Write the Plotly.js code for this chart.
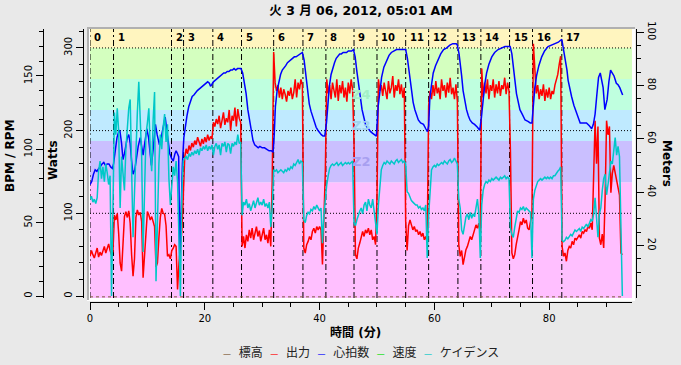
<!DOCTYPE html>
<html>
<head>
<meta charset="utf-8">
<script src="https://cdn.plot.ly/plotly-3.0.1.min.js"></script>
<style>
html,body{margin:0;padding:0;background:#e9e9e9;}
#chart{width:681px;height:365px;}
</style>
</head>
<body>
<div id="chart"></div>
<script>
// ---------------- DATA ----------------
const titleText = '火 3 月 06, 2012, 05:01 AM';
const seriesNames  = ['標高', '出力', '心拍数', '速度', 'ケイデンス'];
const seriesColors = ['#7c5b3a', '#ff0000', '#0000ff', '#00e000', '#00c8c8'];

// interval starts (minutes) and their labels
const intervalStart = [0, 4.1, 14.2, 16.3, 21.4, 26.4, 32.0, 37.1, 41.1, 46.0, 50.0, 55.0, 59.0, 64.1, 68.1, 73.1, 77.1, 82.2];
const intervalLabel = ['0','1','2','3','4','5','6','7','8','9','10','11','12','13','14','15','16','17'];

// power zones (W) and colours
const zoneLow   = [0, 137.5, 187.5, 225, 262.5, 300];
const zoneHigh  = [137.5, 187.5, 225, 262.5, 300, 400];
const zoneColor = ['#ffbfff', '#cabfff', '#bfeaff', '#bfffdf', '#d4ffbf', '#fff5bf'];
const zoneName  = ['Z1','Z2','Z3','Z4','Z5','Z6'];
const zoneLabelShown = [false, true, true, true, false, false];
const zoneLabelColor = ['#f09ff0','#a89ff0','#9fd2f0','#a3f0c6','#c0f0a0','#f0e0a0'];

// sample step (minutes) of power / cadence series
const STEP = 0.25;

// power (W), every 0.25 min from 0
const powerW = [
 48,55,50,46,52,58,47,53,49,55,60,52,57,63,55,50,54,98,92,100,
 75,40,30,60,96,102,95,103,88,50,24,45,95,104,98,101,90,22,45,70,
 102,98,92,96,88,84,35,40,70,95,106,100,99,85,48,50,45,55,58,62,
 60,8,40,65,78,120,168,178,172,182,176,185,180,188,183,192,186,181,190,184,
 192,186,195,188,193,190,210,205,214,208,218,203,212,222,207,215,210,225,200,218,
 212,228,205,226,215,210,60,72,58,74,66,80,70,82,68,78,84,72,79,66,
 75,82,68,74,64,80,60,140,295,258,248,255,240,252,238,250,244,235,248,242,
 252,238,246,262,240,258,250,262,255,58,52,62,66,72,68,78,82,76,84,80,
 84,80,38,95,150,262,245,255,238,258,248,240,262,236,255,245,260,240,252,235,
 258,245,262,250,185,50,45,58,64,70,78,72,80,76,82,74,80,68,72,62,
 120,262,248,255,242,258,250,238,260,245,252,266,240,255,248,262,244,256,240,252,
 90,55,85,92,86,80,84,78,80,74,78,72,76,68,72,64,230,248,238,255,
 242,260,245,252,238,262,248,255,240,258,246,264,244,252,238,256,236,62,48,55,
 38,48,56,60,66,72,68,76,80,86,82,88,75,275,240,258,245,262,238,255,
 248,262,240,256,245,260,242,255,250,264,244,258,248,175,52,45,50,62,74,80,
 90,86,94,88,92,82,80,88,100,305,265,245,255,238,250,242,256,236,250,240,
 252,238,248,244,255,262,268,280,290,60,48,52,42,55,60,58,66,62,70,68,
 72,74,70,78,76,80,78,84,82,88,80,140,212,160,205,70,62,75,58,120,
 212,195,205,125,148,158,150,138,130,122,52,50
];

// cadence (rpm), every 0.25 min from 0
const cadenceRpm = [
 66,68,64,66,63,67,85,92,80,88,78,90,84,76,82,0,60,125,110,128,
 112,60,95,80,72,100,118,128,134,95,40,70,105,125,146,120,95,30,70,110,
 118,128,100,85,120,139,10,60,90,110,100,115,124,105,117,80,62,75,88,82,
 92,78,30,0,70,92,94,95,93,97,95,98,96,99,97,100,96,101,99,102,
 100,103,99,102,100,103,96,102,104,100,103,96,104,102,105,98,104,103,97,104,
 102,105,103,110,104,105,55,64,62,66,60,63,58,62,65,60,63,67,62,64,
 62,66,61,63,60,64,47,60,86,85,86,84,85,86,85,84,86,85,87,86,
 88,87,90,89,91,93,90,92,91,52,50,55,57,56,59,58,61,59,62,60,
 58,60,36,55,68,76,82,87,89,90,89,90,91,89,90,91,89,90,91,90,
 91,90,91,92,50,48,52,56,58,60,56,62,64,58,66,62,60,66,58,48,
 42,62,78,86,89,91,90,92,91,90,92,91,90,92,93,91,92,93,91,92,
 90,71,70,67,65,64,63,62,62,60,61,59,60,58,62,26,55,74,86,88,
 89,88,90,89,90,91,90,92,91,90,92,93,91,92,94,92,90,66,60,45,
 42,48,54,56,52,57,53,56,54,60,66,56,26,62,72,76,78,77,79,78,
 80,79,80,81,80,79,81,80,81,82,80,81,80,46,42,40,47,52,58,57,
 60,59,61,58,60,59,58,57,26,66,72,76,78,79,80,79,80,81,80,81,
 80,81,80,82,82,84,85,86,88,38,37,38,40,39,41,42,41,43,45,44,
 45,46,44,47,46,48,49,47,50,52,51,56,67,52,40,56,60,72,80,83,
 69,76,86,92,90,100,108,96,102,95,36,0
];

// heart rate: times (min) and bpm
const hrT = [
 0.0,0.3,0.6,0.9,1.2,1.5,1.8,2.1,2.4,2.7,3.0,3.3,3.6,3.9,
 4.1,4.4,4.7,5.0,5.2,5.5,5.75,6.0,6.3,6.5,6.75,7.0,7.25,7.5,7.8,8.1,8.4,8.75,9.0,9.25,9.6,9.9,10.2,10.45,10.7,11.0,11.4,11.7,12.1,12.5,12.8,13.1,13.4,13.7,13.9,14.2,
 14.5,14.8,15.0,15.25,15.45,15.55,15.62,15.75,15.9,16.1,16.35,
 16.6,16.9,17.2,17.5,17.8,18.1,18.4,18.7,19.0,19.3,19.6,19.9,20.2,20.5,20.8,21.0,21.2,
 21.5,21.8,22.1,22.4,22.7,23.0,23.3,23.6,23.9,24.2,24.5,24.8,25.1,25.4,25.7,26.0,26.3,
 26.6,26.9,27.2,27.5,27.8,28.1,28.4,28.7,29.0,29.3,29.6,30.0,30.4,30.8,31.2,31.6,31.9,
 32.1,32.3,32.6,32.9,33.2,33.5,33.8,34.1,34.4,34.7,35.0,35.3,35.6,35.9,36.2,36.5,36.8,37.0,
 37.3,37.6,37.9,38.2,38.5,38.8,39.1,39.4,39.7,40.0,40.3,40.6,40.9,
 41.2,41.4,41.7,42.0,42.3,42.6,42.9,43.2,43.5,43.8,44.1,44.4,44.7,45.0,45.3,45.6,45.9,
 46.2,46.5,46.8,47.1,47.4,47.7,48.0,48.3,48.6,48.9,49.2,49.5,49.9,
 50.2,50.5,50.8,51.2,51.7,52.1,52.5,53.0,53.4,54.0,54.6,55.0,
 55.3,55.5,55.75,56.0,56.3,56.6,56.9,57.2,57.6,58.1,58.5,58.8,
 59.0,59.2,59.5,59.8,60.2,60.7,61.1,61.6,62.1,62.7,63.2,63.8,64.0,
 64.3,64.5,64.75,65.0,65.3,65.6,65.9,66.2,66.6,67.0,67.5,67.9,
 68.2,68.5,68.8,69.1,69.5,70.0,70.5,71.1,71.7,72.3,72.8,73.2,
 73.5,73.75,74.0,74.3,74.6,74.9,75.3,75.8,76.3,76.7,77.0,
 77.2,77.5,77.8,78.2,78.7,79.2,79.8,80.4,81.0,81.6,82.2,
 82.5,82.8,83.1,83.3,83.6,83.9,84.3,84.8,85.4,86.0,86.5,87.0,87.4,87.7,88.0,88.3,88.6,88.9,89.2,89.4,89.7,90.1,90.4,90.7,91.0,91.3,91.7,92.0,92.3,92.6,92.8
];
const hrBpm = [
 76,78,83,86,85,87,88,90,91,89,90,90,88,87,
 90,100,108,112,113,104,93,97,104,108,110,104,92,83,86,95,102,108,103,96,106,114,108,97,89,100,117,110,103,110,116,122,112,102,97,94,
 92,97,99,97,95,60,26,40,69,90,108,
 116,123,129,133,136,137,139,140,141,142,143,144,145,146,145,143,144,
 146,147,148,149,150,151,152,152,153,153,154,154,155,154,155,155,155,
 152,146,138,127,119,112,106,103,102,101,102,101,101,100,99,99,98,
 110,129,140,147,151,154,156,157,159,160,161,162,163,163,164,165,166,166,
 161,152,140,131,126,122,118,115,113,111,110,109,109,
 118,130,143,151,156,159,162,164,165,165,166,166,166,167,167,167,168,
 163,153,143,134,127,122,117,115,113,112,111,110,109,
 129,140,149,156,161,164,166,167,168,168,168,168,
 162,156,147,138,132,127,123,120,118,117,114,112,
 116,134,144,152,157,162,165,168,169,171,172,172,171,
 165,159,150,140,133,127,123,120,118,117,115,113,
 122,136,145,152,158,163,166,168,169,170,170,170,
 165,158,148,138,131,127,124,120,119,118,118,
 128,142,150,157,163,167,170,171,172,173,175,
 168,162,154,147,141,136,130,124,118,118,118,116,114,117,124,137,149,152,147,142,127,134,146,154,152,150,145,144,142,139,137
];

// altitude (m) and speed (km/h) — flat
const altT = [0, 92.75];
const altM = [0.8, 0.8];
const speedT = [0, 92.75];
const speedV = [0, 0];

// ---------------- BUILD ----------------
const powerT = powerW.map((_, i) => i * STEP);
const cadT = cadenceRpm.map((_, i) => i * STEP);

const FONT = 'DejaVu Sans, Noto Sans CJK JP, sans-serif';
const FW = 681, FH = 365;
const px = v => v / FW;
const py = v => 1 - v / FH;

const WATT_RANGE = [-2.42, 322.9];
const BPM_RANGE = [-1.36, 182.0];
const M_RANGE = [0.375, 101.2];
const X_RANGE = [0, 94.43];

const data = [
  {x: altT, y: altM, yaxis: 'y3', type: 'scatter', mode: 'lines', name: seriesNames[0],
   line: {color: seriesColors[0], width: 1, dash: 'dot'}},
  {x: powerT, y: powerW, yaxis: 'y', type: 'scatter', mode: 'lines', name: seriesNames[1],
   line: {color: seriesColors[1], width: 1.5}},
  {x: hrT, y: hrBpm, yaxis: 'y2', type: 'scatter', mode: 'lines', name: seriesNames[2],
   line: {color: seriesColors[2], width: 1.5}},
  {x: speedT, y: speedV, yaxis: 'y3', type: 'scatter', mode: 'lines', name: seriesNames[3],
   line: {color: seriesColors[3], width: 1}},
  {x: cadT, y: cadenceRpm, yaxis: 'y2', type: 'scatter', mode: 'lines', name: seriesNames[4],
   line: {color: seriesColors[4], width: 1.5}}
];

const shapes = [];
// sunken frame
shapes.push({type:'rect', xref:'paper', yref:'paper', x0:px(87), x1:px(635), y0:py(301), y1:py(27),
  fillcolor:'#ffffff', line:{width:0}, layer:'below'});
shapes.push({type:'line', xref:'paper', yref:'paper', x0:px(87), x1:px(635), y0:py(28), y1:py(28),
  line:{color:'#b0b0b0', width:2}, layer:'below'});
shapes.push({type:'line', xref:'paper', yref:'paper', x0:px(88), x1:px(88), y0:py(27), y1:py(300),
  line:{color:'#b0b0b0', width:2}, layer:'below'});
// zones
zoneLow.forEach((lo, i) => {
  shapes.push({type:'rect', xref:'x domain', yref:'y', x0:0, x1:1,
    y0: lo === 0 ? WATT_RANGE[0] : lo,
    y1: Math.min(zoneHigh[i], WATT_RANGE[1]),
    fillcolor: zoneColor[i], line:{width:0}, layer:'below'});
});
// dotted grid at watts
[100, 200, 300].forEach(v => {
  shapes.push({type:'line', xref:'x domain', yref:'y', x0:0, x1:1, y0:v, y1:v,
    line:{color:'#000', width:1, dash:'1px,2px'}, layer:'below'});
});
// interval separators
intervalStart.forEach(t => {
  shapes.push({type:'line', xref:'x', yref:'y domain', x0:t, x1:t, y0:0, y1:1,
    line:{color:'#000', width:1, dash:'6px,3px,2px,3px'}, layer:'below'});
});

const annotations = [];
intervalStart.forEach((t, i) => {
  annotations.push({xref:'x', yref:'paper', x:t, y:py(37), xanchor:'left', yanchor:'middle', xshift:2,
    text:'<b>' + intervalLabel[i] + '</b>', showarrow:false, font:{family:FONT, size:10, color:'#000'}});
});
zoneName.forEach((z, i) => {
  if (!zoneLabelShown[i]) return;
  annotations.push({xref:'x domain', yref:'y', x:0.5, y:(zoneLow[i] + zoneHigh[i]) / 2,
    xanchor:'center', yanchor:'middle', text:'<b>' + z + '</b>', showarrow:false,
    font:{family:FONT, size:13, color: zoneLabelColor[i]}});
});
// axis titles
annotations.push({xref:'paper', yref:'paper', x:px(10), y:py(156), text:'<b>BPM / RPM</b>', textangle:-90,
  showarrow:false, xanchor:'center', yanchor:'middle', font:{family:FONT, size:12, color:'#000'}});
annotations.push({xref:'paper', yref:'paper', x:px(53), y:py(160), text:'<b>Watts</b>', textangle:-90,
  showarrow:false, xanchor:'center', yanchor:'middle', font:{family:FONT, size:12, color:'#000'}});
annotations.push({xref:'paper', yref:'paper', x:px(667), y:py(163), text:'<b>Meters</b>', textangle:90,
  showarrow:false, xanchor:'center', yanchor:'middle', font:{family:FONT, size:12, color:'#000'}});
annotations.push({xref:'paper', yref:'paper', x:px(356), y:py(332), text:'<b>時間 (分)</b>',
  showarrow:false, xanchor:'center', yanchor:'middle', font:{family:FONT, size:12, color:'#000'}});
// legend
const legendText = seriesNames.map((n, i) =>
  '<span style="color:' + seriesColors[i] + ';font-size:8px">—</span>\u00a0\u00a0' + n).join('\u00a0\u00a0');
annotations.push({xref:'paper', yref:'paper', x:px(361), y:py(352), text:legendText,
  showarrow:false, xanchor:'center', yanchor:'middle', font:{family:FONT, size:12, color:'#222'}});

const axisCommon = {
  showline:true, linecolor:'#000', linewidth:1, ticks:'outside', ticklen:7, tickwidth:1, tickcolor:'#000',
  showgrid:false, zeroline:false, tickfont:{family:FONT, size:10, color:'#000'}, fixedrange:true
};

const layout = {
  width: FW, height: FH,
  margin: {l:0, r:0, t:0, b:0},
  paper_bgcolor: '#e9e9e9',
  plot_bgcolor: 'rgba(0,0,0,0)',
  showlegend: false,
  font: {family: FONT, size: 10, color: '#000'},
  title: {text: titleText, xref:'container', x: px(361), xanchor:'center',
          yref:'container', y: py(11), yanchor:'middle',
          font: {family: FONT, size: 12.5, weight: 'bold', color:'#000'}},
  xaxis: Object.assign({}, axisCommon, {
    domain: [px(90), px(632)], range: X_RANGE, anchor:'free', position: py(302),
    tick0: 0, dtick: 20,
    minor: {dtick: 5, tick0: 0, ticks:'outside', ticklen: 4, tickcolor:'#000', showgrid:false}
  }),
  yaxis: Object.assign({}, axisCommon, {
    domain: [py(298), py(29)], range: WATT_RANGE, anchor:'free', position: px(83), side:'left',
    tick0: 0, dtick: 100, tickangle: -90,
    minor: {dtick: 20, tick0: 0, ticks:'outside', ticklen: 4, tickcolor:'#000', showgrid:false}
  }),
  yaxis2: Object.assign({}, axisCommon, {
    overlaying: 'y', range: BPM_RANGE, anchor:'free', position: px(43), side:'left',
    tick0: 0, dtick: 50, tickangle: -90,
    minor: {dtick: 10, tick0: 0, ticks:'outside', ticklen: 4, tickcolor:'#000', showgrid:false}
  }),
  yaxis3: Object.assign({}, axisCommon, {
    overlaying: 'y', range: M_RANGE, anchor:'free', position: px(636), side:'right',
    tick0: 0, dtick: 20, tickangle: 90,
    minor: {dtick: 5, tick0: 0, ticks:'outside', ticklen: 4, tickcolor:'#000', showgrid:false}
  }),
  shapes: shapes,
  annotations: annotations
};

Plotly.newPlot('chart', data, layout, {staticPlot: true, displayModeBar: false});
</script>
</body>
</html>
